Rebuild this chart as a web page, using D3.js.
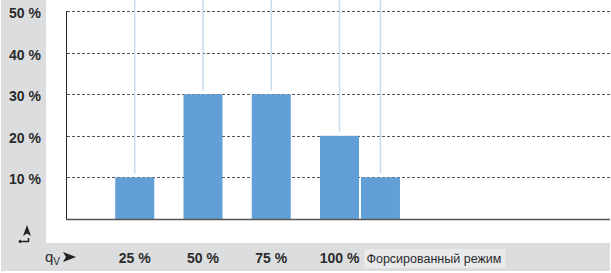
<!DOCTYPE html>
<html lang="ru">
<head>
  <meta charset="UTF-8">
  <title>qV</title>
  <script src="https://d3js.org/d3.v7.min.js"></script>
  <style>
    body { margin: 0; padding: 0; background: #fff; }
    svg { display: block; }
    text { font-family: "Liberation Sans Narrow", "Arial Narrow", "Liberation Sans", sans-serif; fill: #2b2b2b; }
    .tick-lbl { font-size: 14px; font-weight: bold; }
  </style>
</head>
<body>
  <div id="chart"></div>
  <script>
    const width = 611;
    const height = 273;

    // qV share per mode (x value = qV in %, forced mode sits just past 100 %)
    const categories = ["25 %", "50 %", "75 %", "100 %", "Форсированный режим"];
    const qvPositions = [25, 50, 75, 100, 115];
    const shares = [10, 30, 30, 20, 10];
    const yTicks = [10, 20, 30, 40, 50];

    const svg = d3.select("#chart")
      .append("svg")
      .attr("width", width)
      .attr("height", height);

    // background: gray frame on left and bottom
    svg.append("rect").attr("x", 1).attr("y", 0).attr("width", 609).attr("height", 271).attr("fill", "#dcdddf");
    svg.append("rect").attr("x", 46).attr("y", 0).attr("width", 565).attr("height", 243).attr("fill", "#fff");

    const x = d3.scaleLinear().domain([0, 200]).range([66.5, 612.5]);
    const y = d3.scaleLinear().domain([0, 50]).range([219, 11]);
    const barW = 39;

    // dashed gridlines
    svg.append("g")
      .selectAll("line")
      .data(yTicks)
      .join("line")
      .attr("x1", 67).attr("x2", 610)
      .attr("y1", d => Math.round(y(d)) + 0.5)
      .attr("y2", d => Math.round(y(d)) + 0.5)
      .attr("stroke", "#555")
      .attr("stroke-width", 1)
      .attr("stroke-dasharray", "3,2");

    // thin blue leader lines above bars
    svg.append("g")
      .selectAll("line")
      .data(shares)
      .join("line")
      .attr("x1", (d, i) => x(qvPositions[i]))
      .attr("x2", (d, i) => x(qvPositions[i]))
      .attr("y1", 0)
      .attr("y2", d => y(d) - 4)
      .attr("stroke", "#c9dcef")
      .attr("stroke-width", 1.5);

    // bars
    svg.append("g")
      .selectAll("rect")
      .data(shares)
      .join("rect")
      .attr("x", (d, i) => x(qvPositions[i]) - barW / 2)
      .attr("y", d => y(d))
      .attr("width", barW)
      .attr("height", d => y(0) - y(d))
      .attr("fill", "#619fd6");

    // axes lines
    svg.append("line")
      .attr("x1", 66.5).attr("x2", 66.5).attr("y1", 11).attr("y2", 219.5)
      .attr("stroke", "#222").attr("stroke-width", 1);
    svg.append("line")
      .attr("x1", 66).attr("x2", 610).attr("y1", 219.5).attr("y2", 219.5)
      .attr("stroke", "#555").attr("stroke-width", 1.5);

    // y labels
    svg.append("g")
      .selectAll("text")
      .data(yTicks)
      .join("text")
      .attr("class", "tick-lbl")
      .attr("x", 41)
      .attr("y", d => y(d) + 7)
      .attr("text-anchor", "end")
      .text(d => d + " %");

    // x labels
    const xl = svg.append("g");
    xl.selectAll("text")
      .data(categories.slice(0, 4))
      .join("text")
      .attr("class", "tick-lbl")
      .attr("x", (d, i) => x(qvPositions[i]))
      .attr("y", 263)
      .attr("text-anchor", "middle")
      .text(d => d);

    const lastX = x(qvPositions[4]) - 16;
    xl.append("rect")
      .attr("x", lastX).attr("y", 249).attr("width", 141).attr("height", 19)
      .attr("fill", "#e9eaec");
    xl.append("text")
      .attr("x", lastX + 2)
      .attr("y", 263)
      .style("font-size", "12.5px")
      .text(categories[4]);

    // qV arrow label
    const q = svg.append("text").attr("x", 45).attr("y", 262).style("font-size", "15px");
    q.append("tspan").text("q");
    q.append("tspan").attr("dy", 3).style("font-size", "10px").text("V");
    svg.append("path")
      .attr("d", "M63,252 L76,257 L63,262 L66,257 Z")
      .attr("fill", "#222");

    // small icon: up arrow + return symbol
    svg.append("path")
      .attr("d", "M27,225 L31,236 L27,233.5 L23,236 Z")
      .attr("fill", "#222");
    svg.append("path")
      .attr("d", "M19,241.5 L29,241.5 M28.5,241.5 L28.5,238")
      .attr("stroke", "#222").attr("stroke-width", 1.6).attr("fill", "none");
    svg.append("path")
      .attr("d", "M18,241.5 L21,239.5 L21,243.5 Z")
      .attr("fill", "#222");
  </script>
</body>
</html>
